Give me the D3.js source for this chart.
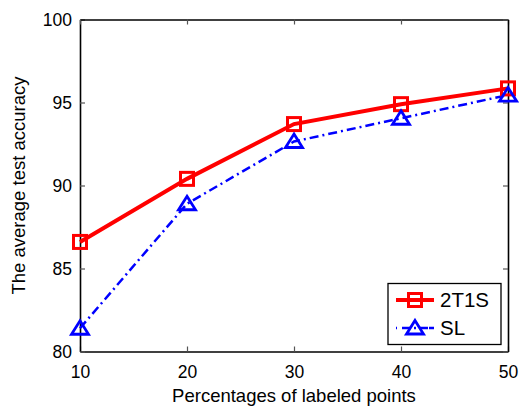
<!DOCTYPE html>
<html>
<head>
<meta charset="utf-8">
<script src="https://cdn.jsdelivr.net/npm/d3@7"></script>
<style>
  html, body { margin: 0; padding: 0; background: #fff; }
  svg { display: block; font-family: "Liberation Sans", Arial, sans-serif; }
</style>
</head>
<body>
<svg id="chart" width="519" height="408"></svg>
<script>
// Percentages of labeled points and average test accuracy per method
const percentages = [10, 20, 30, 40, 50];
const acc2T1S = [86.6, 90.4, 93.7, 94.9, 95.85];
const accSL = [81.4, 88.9, 92.65, 94.05, 95.45];
const xTicks = [10, 20, 30, 40, 50];
const yTicks = [80, 85, 90, 95, 100];
const seriesNames = ["2T1S", "SL"];

const svg = d3.select("#chart");
const m = { left: 80, right: 11, top: 19.5, bottom: 56.5 };
const W = 519, H = 408;
const x = d3.scaleLinear().domain([10, 50]).range([m.left, W - m.right]);
const y = d3.scaleLinear().domain([80, 100]).range([H - m.bottom, m.top]);

// Axes with inward ticks on all four sides
const tickLen = 5;
const gx = svg.append("g").attr("transform", `translate(0,${y(80)})`)
  .call(d3.axisBottom(x).tickValues(xTicks).tickSizeInner(-tickLen).tickSizeOuter(0).tickPadding(14));
const gy = svg.append("g").attr("transform", `translate(${x(10)},0)`)
  .call(d3.axisLeft(y).tickValues(yTicks).tickSizeInner(-tickLen).tickSizeOuter(0).tickPadding(8));
const gxt = svg.append("g").attr("transform", `translate(0,${y(100)})`)
  .call(d3.axisTop(x).tickValues(xTicks).tickSizeInner(-tickLen).tickSizeOuter(0).tickFormat(""));
const gyr = svg.append("g").attr("transform", `translate(${x(50)},0)`)
  .call(d3.axisRight(y).tickValues(yTicks).tickSizeInner(-tickLen).tickSizeOuter(0).tickFormat(""));

[gx, gy, gxt, gyr].forEach(g => {
  g.select(".domain").attr("stroke", "#000").attr("stroke-width", 1.6);
  g.selectAll(".tick line").attr("stroke", "#555").attr("stroke-width", 1.2);
  g.selectAll(".tick text").attr("fill", "#000").style("font-size", "17.5px")
    .style("font-family", "'Liberation Sans', Arial, sans-serif");
});
gx.selectAll(".tick text").attr("dy", "0.71em");

// Axis titles
svg.append("text").attr("x", (x(10) + x(50)) / 2).attr("y", 402)
  .attr("text-anchor", "middle").style("font-size", "18.5px").text("Percentages of labeled points");
svg.append("text").attr("transform", `translate(24.5,${(y(80) + y(100)) / 2}) rotate(-90)`)
  .attr("text-anchor", "middle").style("font-size", "18.5px").text("The average test accuracy");

// Marker shapes
const square = (g, cx, cy) => g.append("rect")
  .attr("x", cx - 6.5).attr("y", cy - 6.5).attr("width", 13).attr("height", 13)
  .attr("fill", "none").attr("stroke", "#f00").attr("stroke-width", 3);
const triangle = (g, cx, cy) => g.append("path")
  .attr("d", `M${cx},${cy - 7.5} L${cx + 8.5},${cy + 6} L${cx - 8.5},${cy + 6} Z`)
  .attr("fill", "none").attr("stroke", "#00f").attr("stroke-width", 2.8).attr("stroke-linejoin", "miter");

const line = d3.line();

// SL: blue dash-dot
const slPts = percentages.map((p, i) => [x(p), y(accSL[i])]);
svg.append("path").attr("d", line(slPts)).attr("fill", "none")
  .attr("stroke", "#00f").attr("stroke-width", 2.5).attr("stroke-dasharray", "9,4,2,4");

// 2T1S: red solid
const tPts = percentages.map((p, i) => [x(p), y(acc2T1S[i])]);
svg.append("path").attr("d", line(tPts)).attr("fill", "none")
  .attr("stroke", "#f00").attr("stroke-width", 4);

const mk = svg.append("g");
tPts.forEach(([cx, cy]) => square(mk, cx, cy));
slPts.forEach(([cx, cy]) => triangle(mk, cx, cy));

// Legend
const lg = svg.append("g");
lg.append("rect").attr("x", 388).attr("y", 283.5).attr("width", 113).attr("height", 61)
  .attr("fill", "#fff").attr("stroke", "#000").attr("stroke-width", 1.3);
const rows = [
  { name: seriesNames[0], cy: 300 },
  { name: seriesNames[1], cy: 328 }
];
lg.append("line").attr("x1", 396).attr("x2", 434).attr("y1", rows[0].cy).attr("y2", rows[0].cy)
  .attr("stroke", "#f00").attr("stroke-width", 4);
square(lg, 415, rows[0].cy);
lg.append("line").attr("x1", 396).attr("x2", 434).attr("y1", rows[1].cy).attr("y2", rows[1].cy)
  .attr("stroke", "#00f").attr("stroke-width", 2.5).attr("stroke-dasharray", "1,5,8,4,2,4,8");
triangle(lg, 415, rows[1].cy);
rows.forEach(r => lg.append("text").attr("x", 440).attr("y", r.cy).attr("dy", "0.36em")
  .style("font-size", "20.5px").text(r.name));
</script>
</body>
</html>
